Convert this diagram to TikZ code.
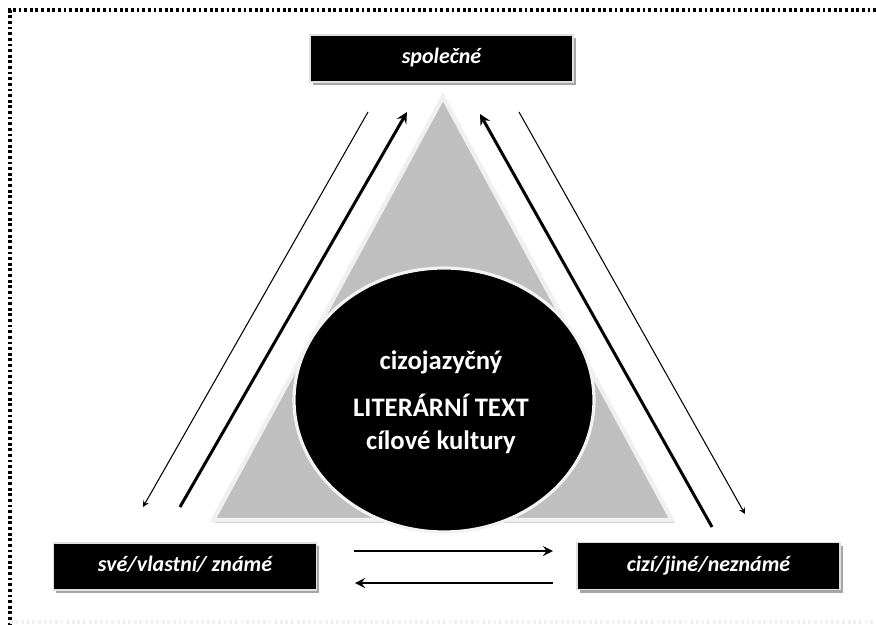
\documentclass[tikz,border=0pt]{standalone}
\usepackage{fontspec}
\setmainfont{Carlito}
\usetikzlibrary{shapes.geometric,shadows}
\begin{document}
\begin{tikzpicture}[x=0.02cm, y=-0.02cm, >=stealth,
  pole/.style={fill=black, draw=black!12, line width=1pt, text=white,
    font=\fontsize{12.5}{15}\selectfont\bfseries\itshape,
    text height=9pt, text depth=3pt,
    minimum width=5.26cm, minimum height=0.94cm, inner sep=0pt,
    drop shadow={shadow xshift=1.6pt, shadow yshift=-1.8pt, fill=black!35, opacity=1}},
  core/.style={text=white, font=\fontsize{15.2}{18}\selectfont\bfseries, inner sep=0pt, anchor=base},
  thin/.style={->, line width=0.6pt},
  thick/.style={->, line width=1.7pt},
  frame/.style={line width=1.8pt, dash pattern=on 1.6pt off 1.6pt}]
\useasboundingbox (0,0) rectangle (876,625);
% dotted frame
\draw[frame] (876,10)--(10,10)--(10,625);
\draw[frame, black!6] (10,622)--(876,622);
% triangle and ellipse
\filldraw[fill=black!25, draw=black!6, line width=2.5pt, line join=miter,
  drop shadow={shadow xshift=1.2pt, shadow yshift=-1.5pt, fill=black!30, opacity=1}]
  (443,97)--(672,520)--(213,520)--cycle;
\node (text) [ellipse, fill=black, draw=black!5, line width=1.8pt,
  minimum width=6cm, minimum height=5.28cm] at (444,400) {};
\node (l1) [core] at (441,369) {cizojazyčný};
\node (l2) [core] at (441,416) {LITERÁRNÍ TEXT};
\node (l3) [core] at (441,449) {cílové kultury};
% the three poles
\node (common) [pole] at (441.5,58.5) {společné};
\node (own) [pole] at (185,566.5) {své/vlastní/ známé};
\node (foreign) [pole] at (708.5,566) {cizí/jiné/neznámé};
% arrow ends
\coordinate (la) at (368,112);
\coordinate (lb) at (143,507);
\coordinate (lc) at (180,507);
\coordinate (ld) at (407,112);
\coordinate (ra) at (712,527);
\coordinate (rb) at (480,114);
\coordinate (rc) at (519,112);
\coordinate (rd) at (745,514);
\coordinate (ba) at (354,551);
\coordinate (bb) at (553,551);
\coordinate (bc) at (553,583);
\coordinate (bd) at (355,583);
\draw[thin] (la)--(lb);
\draw[thick] (lc)--(ld);
\draw[thick] (ra)--(rb);
\draw[thin] (rc)--(rd);
\draw[thick, line width=1.5pt] (ba)--(bb);
\draw[thick, line width=1.5pt] (bc)--(bd);
\end{tikzpicture}
\end{document}
